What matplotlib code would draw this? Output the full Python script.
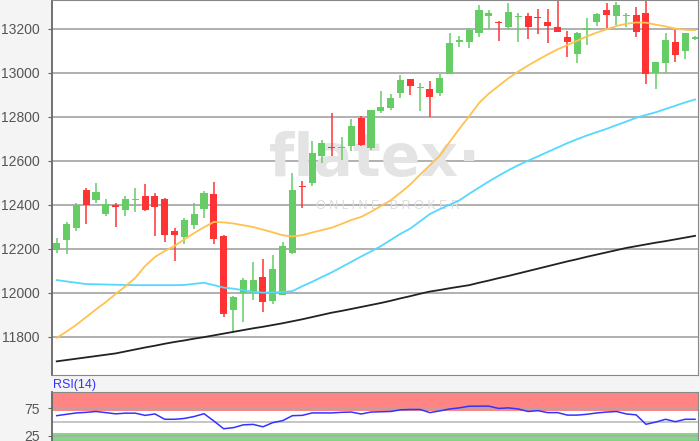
import numpy as np
import matplotlib.pyplot as plt

plt.rcParams['font.family'] = ['Liberation Sans', 'DejaVu Sans']

# OHLC values
opens = [12195, 12240, 12295, 12468, 12420, 12358, 12398, 12375, 12422, 12438,
         12442, 12428, 12282, 12252, 12310, 12383, 12448, 12260, 11920, 12000,
         12000, 12070, 11962, 11992, 12180, 12487, 12500, 12620, 12662, 12658,
         12666, 12793, 12656, 12826, 12838, 12908, 12970, 12930, 12928, 12908,
         12995, 13140, 13140, 13178, 13258, 13232, 13208, 13254, 13257, 13254,
         13230, 13208, 13160, 13084, 13196, 13231, 13284, 13258, 13256, 13261,
         13272, 13000, 13046, 13140, 13098, 13155]
highs = [12250, 12320, 12410, 12478, 12500, 12425, 12408, 12438, 12475, 12495,
         12452, 12432, 12293, 12342, 12408, 12463, 12503, 12265, 11985, 12068,
         12142, 12155, 12172, 12233, 12545, 12510, 12690, 12695, 12815, 12710,
         12788, 12802, 12832, 12918, 12903, 12990, 12972, 12953, 12962, 12996,
         13178, 13167, 13201, 13307, 13284, 13233, 13315, 13270, 13270, 13290,
         13290, 13340, 13189, 13186, 13246, 13272, 13318, 13322, 13272, 13300,
         13340, 13050, 13178, 13196, 13180, 13165]
lows = [12180, 12175, 12280, 12315, 12408, 12350, 12300, 12350, 12365, 12372,
        12260, 12232, 12145, 12222, 12290, 12342, 12222, 11890, 11822, 11868,
        11968, 11915, 11950, 11990, 12178, 12385, 12486, 12592, 12622, 12602,
        12644, 12666, 12648, 12815, 12832, 12885, 12897, 12826, 12797, 12895,
        12993, 13115, 13110, 13163, 13200, 13144, 13200, 13140, 13155, 13174,
        13135, 13184, 13069, 13045, 13125, 13211, 13201, 13216, 13208, 13163,
        12950, 12928, 12999, 13049, 13060, 13150]
closes = [12225, 12315, 12400, 12400, 12460, 12405, 12388, 12425, 12428, 12375,
          12392, 12262, 12265, 12332, 12358, 12455, 12245, 11905, 11982, 12058,
          12058, 11960, 12108, 12214, 12468, 12481, 12635, 12680, 12658, 12663,
          12757, 12670, 12830, 12845, 12887, 12965, 12940, 12935, 12890, 12976,
          13135, 13148, 13196, 13284, 13273, 13227, 13276, 13258, 13208, 13246,
          13214, 13186, 13139, 13178, 13201, 13266, 13261, 13307, 13261, 13186,
          12993, 13049, 13148, 13080, 13178, 13162]

# moving averages
ma_short = [11796, 11824, 11855, 11890, 11925, 11958, 11995, 12030, 12068, 12122,
            12163, 12190, 12213, 12243, 12272, 12298, 12322, 12320, 12315, 12307,
            12299, 12287, 12275, 12262, 12256, 12262, 12274, 12285, 12296, 12313,
            12331, 12345, 12368, 12394, 12420, 12455, 12492, 12537, 12580, 12622,
            12685, 12745, 12802, 12862, 12905, 12940, 12975, 13005, 13033, 13058,
            13083, 13106, 13125, 13145, 13165, 13182, 13197, 13212, 13222, 13228,
            13227, 13218, 13210, 13200, 13195, 13193]
ma_mid = [12058, 12052, 12046, 12040, 12039, 12038, 12037, 12036, 12035, 12035,
          12035, 12035, 12035, 12036, 12041, 12046, 12035, 12024, 12019, 12012,
          12005, 12001, 12002, 12004, 12008, 12030, 12050, 12072, 12093, 12117,
          12141, 12165, 12188, 12212, 12240, 12268, 12292, 12325, 12358, 12380,
          12400, 12420, 12450, 12478, 12506, 12532, 12557, 12580, 12600, 12620,
          12640, 12660, 12680, 12698, 12715, 12730, 12745, 12762, 12778, 12795,
          12808, 12820, 12835, 12850, 12865, 12878]
ma_long = [11689, 11695, 11701, 11707, 11713, 11719, 11725, 11734, 11743, 11752,
           11760, 11769, 11777, 11784, 11792, 11799, 11807, 11815, 11823, 11831,
           11839, 11846, 11854, 11862, 11871, 11880, 11890, 11900, 11910, 11918,
           11927, 11936, 11945, 11954, 11964, 11975, 11985, 11996, 12006, 12013,
           12021, 12028, 12035, 12046, 12056, 12067, 12077, 12088, 12099, 12110,
           12121, 12132, 12143, 12153, 12164, 12174, 12184, 12194, 12204, 12212,
           12220, 12228, 12235, 12243, 12251, 12259]

rsi = [61.5, 64, 66.4, 67.5, 69, 67, 64.8, 66, 66, 62,
       64.6, 55, 55, 56.5, 60, 65, 52, 38, 40, 45,
       45.8, 41.5, 49, 52.5, 61.5, 62, 66.4, 66.4, 66.4, 67.5,
       68, 64.5, 68, 68.5, 69, 72, 72.6, 72.6, 67, 70,
       73.5, 75.5, 78.5, 78.6, 78.6, 74.5, 75.5, 73.5, 69, 70.5,
       67, 67, 62.5, 62.5, 64, 66.4, 68, 69, 64.6, 63,
       46, 50, 55, 50.7, 55, 55]

price_ticks = [11800, 12000, 12200, 12400, 12600, 12800, 13000, 13200]
rsi_ticks = [25, 75]

GREEN = '#66cc66'
RED = '#ff3333'
BG = '#f4f4f4'
W, H = 700, 441

fig = plt.figure(figsize=(7, 4.41), dpi=100, facecolor=BG)
ax = fig.add_axes([52 / W, (H - 375) / H, 646 / W, 375 / H])
ax2 = fig.add_axes([52 / W, 0, 646 / W, (H - 392) / H])

x = np.arange(len(opens))
o, h, l, c = map(np.array, (opens, highs, lows, closes))
up = c >= o
colors = np.where(up, GREEN, RED)

ax.set_facecolor('white')
for t in price_ticks:
    ax.axhline(t, color='#aaaaaa', lw=1.3, zorder=0)

ax.vlines(x, l, h, colors=colors, lw=1.1, zorder=2)
body_lo = np.minimum(o, c)
body_h = np.maximum(np.abs(c - o), 5)
ax.bar(x, body_h, bottom=body_lo, width=0.72, color=colors, lw=0, zorder=3)

ax.plot(x, ma_long, color='#222222', lw=1.3, zorder=4)
ax.plot(x, ma_mid, color='#55d8ff', lw=1.3, zorder=4)
ax.plot(x, ma_short, color='#ffc24f', lw=1.3, zorder=4)

# watermark
ax.text(0.50, 0.575, 'flatex\u00b7', transform=ax.transAxes, ha='center',
        va='center', fontsize=42, fontweight='bold', color='#e4e4e4',
        family='DejaVu Sans', zorder=1)
ax.text(0.52, 0.45, 'O N L I N E   B R O K E R', transform=ax.transAxes,
        ha='center', va='center', fontsize=9, color='#dcdcdc', zorder=1)

ax.set_xlim(-0.48, 65.3)
ax.set_ylim(11627, 13330)
ax.set_yticks(price_ticks)
ax.set_xticks([])
ax.tick_params(axis='y', labelsize=10, labelcolor='#555555', color='#666666',
               length=3, pad=6)
for s in ['left', 'bottom', 'right', 'top']:
    ax.spines[s].set_color('#888888')
ax.spines['left'].set_color('#666666')
ax.spines['left'].set_linewidth(1.3)

# RSI panel
ax2.set_facecolor('white')
ax2.axhspan(70, 110, color='#ff8585', lw=0, zorder=0)
ax2.axhspan(0, 30, color='#88d488', lw=0, zorder=0)
for t in [25, 50, 75]:
    ax2.axhline(t, color='#aaaaaa', lw=1.2, zorder=1, alpha=0.8)
ax2.plot(x, rsi, color='#3333ff', lw=1.1, zorder=3)
ax2.set_xlim(-0.48, 65.3)
ax2.set_ylim(16, 104)
ax2.set_yticks(rsi_ticks)
ax2.set_xticks([])
ax2.tick_params(axis='y', labelsize=10, labelcolor='#555555', color='#666666',
                length=3, pad=6)
for s in ['left', 'bottom', 'right', 'top']:
    ax2.spines[s].set_color('#888888')
ax2.spines['left'].set_color('#666666')
ax2.spines['left'].set_linewidth(1.3)
fig.text(53 / W, 1 - 385 / H, 'RSI(14)', color='#3333ff', fontsize=9,
         ha='left', va='center')

fig.savefig('out.png', dpi=100, facecolor=BG)
